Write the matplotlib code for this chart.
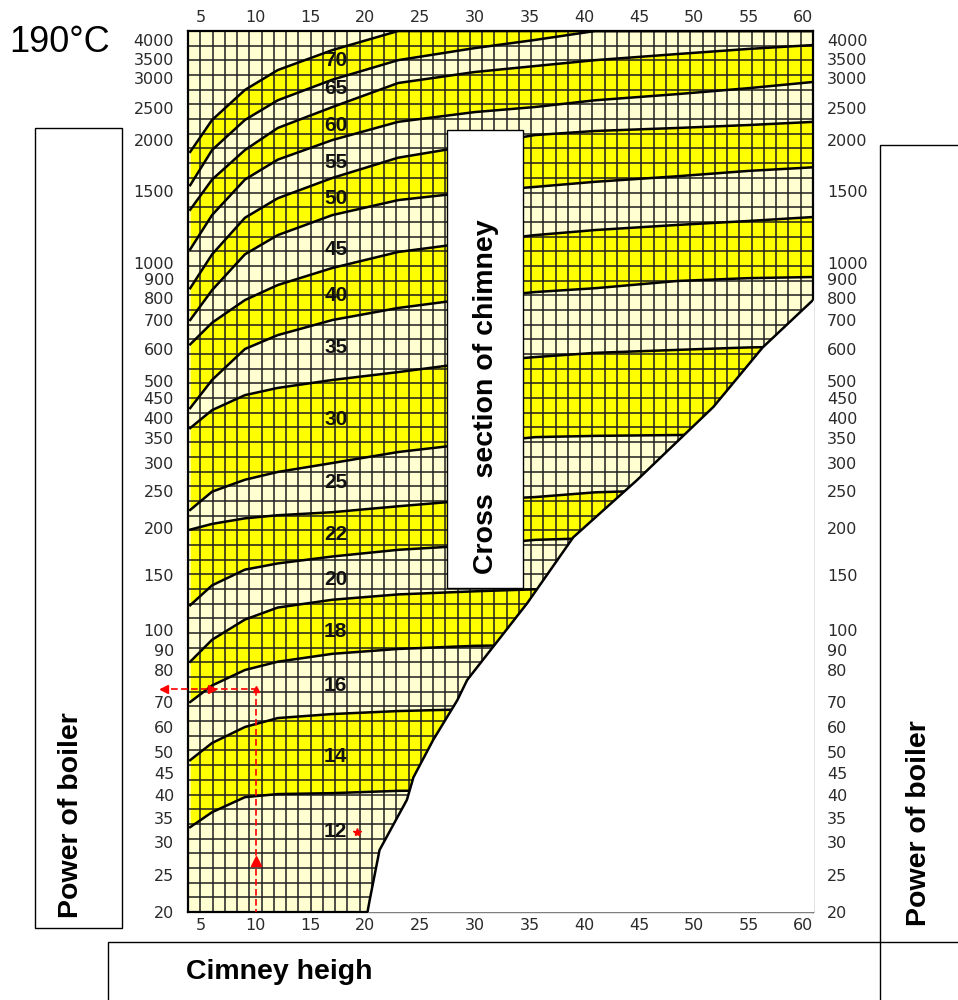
import numpy as np
import matplotlib.pyplot as plt
from matplotlib.patches import Rectangle
from matplotlib.transforms import ScaledTranslation

heights = [4, 6, 9, 12, 17, 23, 30, 35.5, 41, 48.5, 55, 61]

# band edges, boiler power in kW, from top to bottom
edge_top_70 = [1870, 2300, 2790, 3180, 3740, 5000, 5000, 5000, 5000, 5000, 5000, 5000]
edge_70_65 = [1550, 1890, 2300, 2620, 2970, 3420, 3810, 4110, 4500, 5000, 5000, 5000]
edge_65_60 = [1350, 1600, 1890, 2175, 2515, 2910, 3135, 3275, 3420, 3600, 3780, 3925]
edge_60_55 = [1080, 1310, 1600, 1790, 2000, 2270, 2430, 2515, 2620, 2720, 2820, 2930]
edge_55_50 = [850, 1050, 1290, 1440, 1615, 1810, 1945, 2070, 2130, 2175, 2220, 2270]
edge_50_45 = [700, 840, 1050, 1170, 1310, 1425, 1495, 1535, 1580, 1630, 1680, 1715]
edge_45_40 = [615, 690, 790, 867, 968, 1064, 1126, 1170, 1204, 1239, 1267, 1296]
edge_40_35 = [424, 503, 600, 646, 700, 753, 800, 830, 850, 889, 905, 912]
edge_35_30 = [374, 419, 458, 479, 503, 526, 557, 573, 587, 597, 605, 609]
edge_30_25 = [223, 249, 269, 283, 300, 321, 339, 352, 355, 357, 360, 362]
edge_25_22 = [198, 205, 212, 216, 220, 228, 237, 241, 248, 252, 255, 257]
edge_22_20 = [120, 139, 155, 161, 168, 175, 180, 186, 188, 191, 192, 193]
edge_20_18 = [84, 95, 108, 118, 125, 130, 133, 135, 136, 137, 137, 137]
edge_18_16 = [70, 75, 80, 84, 88, 90.5, 92, 92.4, 93, 93, 93, 93]
edge_16_14 = [48, 53.4, 60, 63.4, 65, 66.2, 67, 67.5, 67.5, 67.5, 67.5, 67.5]
edge_14_12 = [33, 36.2, 39.5, 40.2, 40.4, 40.9, 41.1, 41.1, 41.1, 41.1, 41.1, 41.1]

all_edges = [edge_top_70, edge_70_65, edge_65_60, edge_60_55, edge_55_50, edge_50_45,
             edge_45_40, edge_40_35, edge_35_30, edge_30_25, edge_25_22, edge_22_20,
             edge_20_18, edge_18_16, edge_16_14, edge_14_12]

# yellow bands = (upper edge, lower edge)
yellow_bands = [(edge_top_70, edge_70_65), (edge_65_60, edge_60_55), (edge_55_50, edge_50_45),
                (edge_45_40, edge_40_35), (edge_35_30, edge_30_25), (edge_25_22, edge_22_20),
                (edge_20_18, edge_18_16), (edge_16_14, edge_14_12)]

# cross section labels (cm) and the power where they sit
section_labels = ['70', '65', '60', '55', '50', '45', '40', '35', '30', '25', '22', '20', '18', '16', '14', '12']
section_label_power = [3420, 2820, 2220, 1760, 1440, 1076, 815, 605, 395, 265, 192, 145, 99, 75, 49, 32]
section_label_height = 17.3

# limit curve, below/right of it the chimney does not work (white)
white_height = [20.2, 20.4, 21.3, 23.8, 24.4, 26.2, 28.4, 29.3, 34.8, 39.0, 44.8, 51.8, 56.3, 60.9, 62]
white_power = [20, 21.5, 28.7, 38.9, 44, 54.6, 70.5, 76.7, 122, 189, 268, 427, 605, 790, 800]

# example reading (red)
example_height = 10
example_power = 74
example_start = 1.3
star_height = 19.2
star_power = 32

# printed power scale of the nomogram (not quite logarithmic)
power_ticks = [20, 25, 30, 35, 40, 45, 50, 60, 70, 80, 90, 100, 150, 200, 250, 300, 350, 400,
               450, 500, 600, 700, 800, 900, 1000, 1500, 2000, 2500, 3000, 3500, 4000]
power_tick_px = [912, 875, 842, 818, 795, 773, 752, 727, 702, 670, 650, 630, 575, 528, 491, 463,
                 438, 418, 398, 381, 349, 320, 298, 279, 263, 191, 140, 108, 78, 57, 43]
power_top, power_top_px = 4450, 31
height_ticks = [5, 10, 15, 20, 25, 30, 35, 40, 45, 50, 55, 60]

PALE = '#FFFFD2'
YELLOW = '#FFFF00'

knot_log = np.log10(power_ticks + [power_top])
knot_pos = (912 - np.array(power_tick_px + [power_top_px])) / 881.0


def forward(v):
    v = np.clip(np.asarray(v, dtype=float), 1e-3, None)
    return np.interp(np.log10(v), knot_log, knot_pos)


def inverse(u):
    return 10 ** np.interp(np.asarray(u, dtype=float), knot_pos, knot_log)


def px(x, y):
    # pixel position -> figure fraction
    return x / 958, 1 - y / 1000


fig = plt.figure(figsize=(9.58, 10), dpi=100)
ax = fig.add_axes([188 / 958, 88 / 1000, 625 / 958, 881 / 1000])
ax.set_yscale('function', functions=(forward, inverse))
ax.set_xlim(3.8, 60.9)
ax.set_ylim(20, power_top)
ax.set_facecolor(PALE)

for upper, lower in yellow_bands:
    ax.fill_between(heights, lower, upper, color=YELLOW, lw=0, zorder=1)

# the squared paper
ncols, nrows = 51, 60
ax.vlines(np.linspace(0, 1, ncols + 1), 0, 1, transform=ax.transAxes, color='#1e1e1e', lw=1.1, zorder=2)
ax.hlines(np.linspace(0, 1, nrows + 1), 0, 1, transform=ax.transAxes, color='#1e1e1e', lw=1.1, zorder=2)

for edge in all_edges:
    ax.plot(heights, edge, color='black', lw=1.8, zorder=3)

# white area
ax.fill_between(white_height, 1, white_power, color='white', lw=0, zorder=4)
ax.plot(white_height, white_power, color='black', lw=1.8, zorder=5)

for lab, p in zip(section_labels, section_label_power):
    ax.text(section_label_height, p, lab, ha='center', va='center', fontsize=15,
            fontweight='bold', family='Liberation Sans', color='#111', zorder=6)

# example reading
red_style = dict(color='red', lw=1.2, ls=(0, (4, 2)), zorder=7, clip_on=False)
ax.plot([example_start, example_height], [example_power, example_power], **red_style)
ax.plot([example_height, example_height], [example_power, 20], **red_style)
ax.plot(example_start + 0.3, example_power, marker='<', color='red', ms=6, zorder=8, clip_on=False)
ax.plot(6.0, example_power, marker='>', color='red', ms=6, zorder=8)
ax.plot(example_height, example_power, marker='^', color='red', ms=5, zorder=8)
ax.plot(example_height, 27, marker='^', color='red', ms=7, zorder=8)
ax.plot(star_height, star_power, marker='*', color='red', ms=6, zorder=8)

ax.set_xticks(height_ticks)
ax.set_xticklabels([str(h) for h in height_ticks])
ax.set_yticks(power_ticks)
ax.set_yticklabels([str(p) for p in power_ticks])
ax.minorticks_off()
ax.tick_params(axis='both', length=0, labelsize=11.5, labelcolor='#2a2a2a')
ax.tick_params(axis='x', labeltop=True, pad=4)
ax.tick_params(axis='y', labelright=True, pad=10)
for lab in ax.get_xticklabels() + ax.get_yticklabels():
    lab.set_family('DejaVu Sans')

# 4000 and 3500 sit very close on the printed scale, spread them a little
nudge = {4000: 0.035, 3500: -0.02}
for tick, val in zip(ax.yaxis.get_major_ticks(), power_ticks):
    if val in nudge:
        off = ScaledTranslation(0, nudge[val], fig.dpi_scale_trans)
        tick.label1.set_transform(tick.label1.get_transform() + off)
        tick.label2.set_transform(tick.label2.get_transform() + off)

for s in ax.spines.values():
    s.set_linewidth(1.6)

# boxes around the chart
def box(x0, y0, x1, y1):
    (fx0, fy1), (fx1, fy0) = px(x0, y0), px(x1, y1)
    fig.add_artist(Rectangle((fx0, fy0), fx1 - fx0, fy1 - fy0, transform=fig.transFigure,
                             facecolor='white', edgecolor='black', lw=1.0, zorder=5))


box(35, 128, 122, 928)
box(880, 145, 962, 1004)
box(108, 942, 962, 1004)
fig.add_artist(plt.Line2D([880 / 958, 880 / 958], [0, 1 - 942 / 1000], color='black', lw=1.0,
                          transform=fig.transFigure, zorder=6))
box(447, 130, 523, 588)

bold = dict(fontsize=20.5, fontweight='bold', family='Liberation Sans', color='black', zorder=7)
fig.text(*px(71, 815), 'Power of boiler', rotation=90, ha='center', va='center', **bold)
fig.text(*px(919, 823), 'Power of boiler', rotation=90, ha='center', va='center', **bold)
fig.text(*px(186, 972), 'Cimney heigh', ha='left', va='center', **bold)
fig.text(*px(486, 397), 'Cross  section of chimney', rotation=90, ha='center', va='center', **bold)
fig.text(*px(9, 42), '190°C', ha='left', va='center', fontsize=26, family='Liberation Sans')

fig.savefig('out.png', dpi=100)
